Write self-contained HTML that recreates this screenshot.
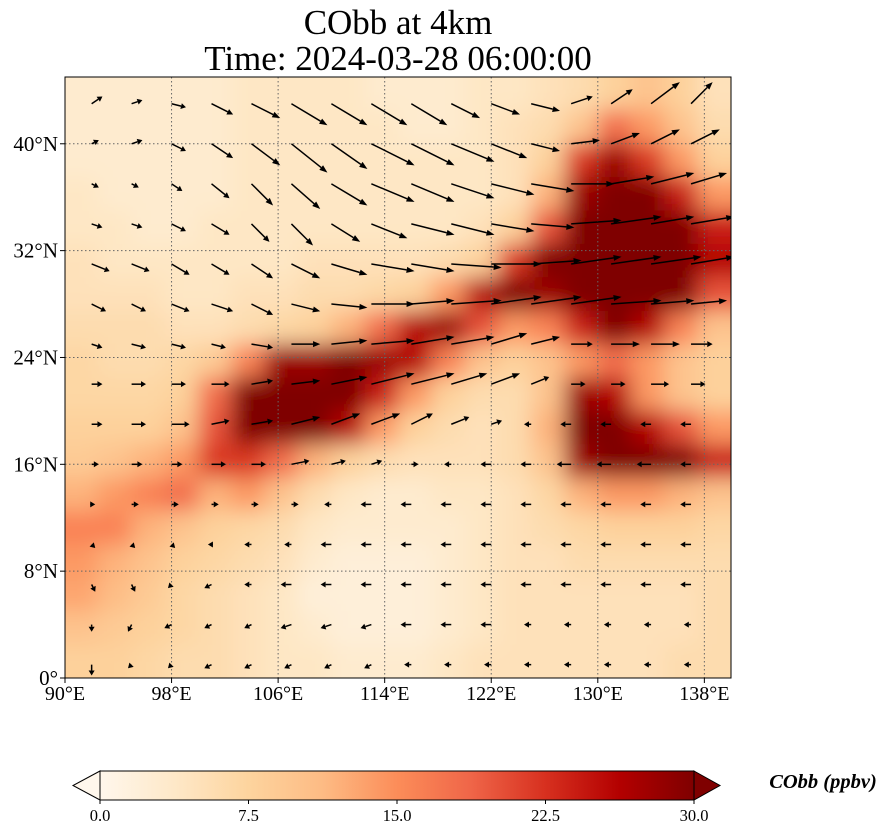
<!DOCTYPE html>
<html><head><meta charset="utf-8"><style>
body{margin:0;background:#fff;width:887px;height:836px;overflow:hidden;font-family:"Liberation Serif",serif}
svg{display:block}
</style></head><body>
<svg id="chart" width="887" height="836">
<defs>
<clipPath id="mapclip"><rect x="65" y="77" width="666" height="601"/></clipPath>
<filter id="blur" x="-10%" y="-10%" width="120%" height="120%"><feGaussianBlur stdDeviation="11"/></filter>
<linearGradient id="cbgrad" x1="0" x2="1" y1="0" y2="0">
<stop offset="0" stop-color="#fff7ec"/><stop offset="0.125" stop-color="#fee8c8"/><stop offset="0.25" stop-color="#fdd49e"/><stop offset="0.375" stop-color="#fdbb84"/><stop offset="0.5" stop-color="#fc8d59"/><stop offset="0.625" stop-color="#ef6548"/><stop offset="0.75" stop-color="#d7301f"/><stop offset="0.875" stop-color="#b30000"/><stop offset="1" stop-color="#7f0000"/>
</linearGradient>
</defs>
<text x="398" y="34" font-size="35" text-anchor="middle">CObb at 4km</text>
<text x="398" y="70" font-size="35" text-anchor="middle">Time: 2024-03-28 06:00:00</text>
<g id="map" clip-path="url(#mapclip)">
<rect x="65" y="77" width="666" height="601" fill="#fde3c4"/>
<g id="field" filter="url(#blur)"></g>
<g id="grid"></g>
<g id="arrows"></g>
</g>
<rect x="65" y="77" width="666" height="601" fill="none" stroke="#000" stroke-width="1"/>
<g id="axes"></g>
<g id="colorbar">
<polygon points="100,771 73,785.5 100,800" fill="#fff7ec" stroke="#000" stroke-width="1"/>
<polygon points="694,771 720,785.5 694,800" fill="#7f0000" stroke="#000" stroke-width="1"/>
<rect x="100" y="771" width="594" height="29" fill="url(#cbgrad)" stroke="#000" stroke-width="1"/>
<text x="823" y="788" font-size="20.5" font-weight="bold" font-style="italic" text-anchor="middle">CObb (ppbv)</text>
</g>
</svg>
<script>
const lonTicks=[90,98,106,114,122,130,138];
const latTicks=[0,8,16,24,32,40];
const cbTicks=[0,7.5,15,22.5,30];
const fieldLats=[43.75,41.25,38.75,36.25,33.75,31.25,28.75,26.25,23.75,21.25,18.75,16.25,13.75,11.25,8.75,6.25,3.75,1.25];
const fieldLons=[91.25,93.75,96.25,98.75,101.25,103.75,106.25,108.75,111.25,113.75,116.25,118.75,121.25,123.75,126.25,128.75,131.25,133.75,136.25,138.75];
const fieldVals=[
[3,3,3,3,3,4,4,4,4,3,3,3,4,4,5,6,8,10,8,5],
[3,3,3,3,3,4,4,4,4,4,3,3,4,5,6,10,18,14,10,6],
[3,3,3,3,3,4,4,4,4,4,4,4,4,5,8,22,28,22,14,8],
[4,3,3,3,3,4,4,4,4,4,4,4,4,5,12,28,30,30,24,14],
[4,4,3,3,4,4,4,4,4,4,4,4,5,8,20,30,30,30,30,24],
[5,4,4,4,4,4,4,5,5,5,5,6,8,22,30,30,30,30,30,26],
[5,5,5,4,4,5,5,6,6,7,8,14,26,30,28,30,30,30,30,20],
[6,6,6,5,5,6,7,8,12,18,26,28,20,14,16,24,30,26,16,10],
[7,6,6,7,9,16,28,28,30,28,26,16,10,8,10,14,18,14,10,8],
[7,7,7,8,18,30,30,30,30,24,14,8,6,6,10,28,26,14,10,8],
[8,8,8,10,20,30,30,30,26,14,8,6,5,6,12,30,30,26,20,14],
[9,10,12,14,22,22,18,12,8,6,5,5,5,6,10,28,30,30,30,24],
[12,14,16,18,12,14,10,6,4,3,3,4,4,5,7,12,14,14,12,10],
[16,16,12,10,8,7,6,4,3,3,3,3,4,5,6,7,8,8,8,7],
[14,12,10,8,7,6,5,3,2,2,2,3,4,5,5,6,6,6,6,6],
[13,11,9,7,6,5,4,2,2,2,2,3,4,5,5,5,5,5,5,6],
[10,9,8,7,6,5,4,3,2,2,2,3,4,5,5,5,5,5,5,6],
[8,8,7,6,6,5,4,4,3,3,3,4,5,5,5,5,5,5,6,6]];
const windLats=[43,40,37,34,31,28,25,22,19,16,13,10,7,4,1];
const windLons=[92,95,98,101,104,107,110,113,116,119,122,125,128,131,134,137];
const windU=[
[3,3,4,6,8,10,10,10,10,8,8,8,6,6,8,6],
[2,3,4,6,8,10,10,12,12,12,10,8,8,8,8,8],
[2,2,3,5,6,8,10,12,12,12,12,12,12,12,12,10],
[3,3,4,5,5,6,8,10,12,12,12,12,14,14,12,12],
[5,5,5,5,6,8,10,12,12,14,14,14,14,14,14,12],
[4,4,5,6,6,8,10,12,12,14,14,14,14,14,12,10],
[3,4,4,4,6,8,10,12,12,12,10,8,6,8,8,6],
[3,4,4,5,6,8,10,12,12,10,8,5,4,4,5,4],
[3,4,5,5,6,8,8,8,6,5,3,-2,-3,-3,-3,-3],
[2,3,3,4,4,5,4,3,2,-2,-3,-3,-4,-4,-4,-3],
[1,2,2,2,2,2,-2,-3,-3,-3,-3,-3,-3,-3,-3,-3],
[1,1,1,-1,-2,-2,-3,-3,-3,-3,-3,-3,-3,-3,-3,-3],
[1,1,-1,-2,-2,-3,-3,-3,-3,-3,-3,-3,-3,-3,-3,-3],
[0,-1,-2,-2,-2,-3,-3,-3,-3,-3,-3,-2,-2,-2,-2,-2],
[0,-1,-1,-2,-2,-2,-2,-2,-2,-2,-2,-2,-2,-2,-2,-2]];
const windV=[
[2,1,-1,-3,-4,-6,-6,-6,-6,-4,-3,-2,2,4,6,6],
[1,1,-2,-4,-6,-8,-7,-6,-6,-5,-4,-2,1,3,4,4],
[-1,-1,-2,-4,-6,-7,-6,-5,-5,-4,-3,-2,0,2,3,3],
[-1,-1,-2,-3,-5,-6,-5,-4,-3,-3,-2,-1,1,2,2,2],
[-2,-2,-3,-3,-4,-4,-3,-2,-2,-1,0,1,2,2,2,2],
[-2,-2,-2,-2,-3,-2,-1,0,1,1,2,2,2,1,1,1],
[-1,-1,-1,-1,-1,0,1,1,2,2,3,2,0,0,0,0],
[0,0,0,0,1,1,2,3,3,3,3,2,0,0,0,0],
[0,0,0,1,1,2,3,3,3,2,1,0,0,0,0,0],
[0,0,0,0,0,1,1,1,0,0,0,0,0,0,0,0],
[0,0,0,0,0,0,0,0,0,0,0,0,0,0,0,0],
[-1,-1,-1,0,0,0,0,0,0,0,0,0,0,0,0,0],
[-2,-2,-1,-1,0,0,0,0,0,0,0,0,0,0,0,0],
[-2,-2,-1,-1,-1,-1,-1,-1,0,0,0,0,0,0,0,0],
[-3,-1,-1,-1,-1,-1,-1,-1,0,0,0,0,0,0,0,0]];

const NS='http://www.w3.org/2000/svg';
const X=lon=>65+(lon-90)*666/50;
const Y=lat=>678-(lat)*601/45;
const CB=v=>100+v*594/30;
const stops=[[255,247,236],[254,232,200],[253,212,158],[253,187,132],[252,141,89],[239,101,72],[215,48,31],[179,0,0],[127,0,0]];
function color(v){let t=Math.max(0,Math.min(1,v/30))*8;let i=Math.min(7,Math.floor(t));let f=t-i;const a=stops[i],b=stops[i+1];return `rgb(${a.map((c,k)=>Math.round(c+(b[k]-c)*f)).join(',')})`;}
function mk(tag,attrs,parent){const e=document.createElementNS(NS,tag);for(const k in attrs)e.setAttribute(k,attrs[k]);parent.appendChild(e);return e;}
const field=document.getElementById('field');
const cw=X(2.5)-X(0), ch=Y(0)-Y(2.5);
fieldLats.forEach((la,r)=>fieldLons.forEach((lo,c)=>{
  const x0=X(lo)-cw/2-(c==0?30:0), y0=Y(la)-ch/2-(r==0?30:0);
  const w=cw+1+(c==0||c==fieldLons.length-1?30:0), h=ch+1+(r==0||r==fieldLats.length-1?30:0);
  const e=mk('rect',{x:x0,y:y0,width:w,height:h,fill:color(fieldVals[r][c])},field);
  
  
}));
const grid=document.getElementById('grid');
lonTicks.forEach(l=>{const e=mk('line',{x1:X(l),x2:X(l),y1:77,y2:678,stroke:'#666',"stroke-width":1,"stroke-dasharray":"1.5,2.5"},grid);
  
  });
latTicks.forEach(l=>{const e=mk('line',{x1:65,x2:731,y1:Y(l),y2:Y(l),stroke:'#666',"stroke-width":1,"stroke-dasharray":"1.5,2.5"},grid);
  
  });
const arrows=document.getElementById('arrows');
const S=3.6;
windLats.forEach((la,r)=>windLons.forEach((lo,c)=>{
  const u=windU[r][c],v=windV[r][c];const sp=Math.hypot(u,v);if(sp<0.5)return;
  const x0=X(lo),y0=Y(la),dx=u*S,dy=-v*S,L=sp*S,ux=dx/L,uy=dy/L;
  const g=mk('g',{},arrows);
  
  
  const hl=Math.min(8,Math.max(5,L*0.25)),hw=3;
  const x1=x0+dx,y1=y0+dy,bx=x1-ux*hl,by=y1-uy*hl;
  mk('line',{x1:x0,y1:y0,x2:bx,y2:by,stroke:'#000',"stroke-width":1.5},g);
  mk('polygon',{points:`${x1},${y1} ${bx-uy*hw},${by+ux*hw} ${bx+uy*hw},${by-ux*hw}`,fill:'#000'},g);
}));
const axes=document.getElementById('axes');
lonTicks.forEach(l=>{mk('line',{x1:X(l),x2:X(l),y1:678,y2:683,stroke:'#000'},axes);
  const t=mk('text',{x:X(l),y:700,"font-size":20,"text-anchor":"middle"},axes);t.textContent=l+'°E';
  
  });
latTicks.forEach(l=>{mk('line',{x1:60,x2:65,y1:Y(l),y2:Y(l),stroke:'#000'},axes);
  const t=mk('text',{x:58,y:Y(l)+7,"font-size":21,"text-anchor":"end"},axes);t.textContent=l===0?'0°':l+'°N';
  
  });
const cb=document.getElementById('colorbar');
cbTicks.forEach(v=>{mk('line',{x1:CB(v),x2:CB(v),y1:800,y2:804,stroke:'#000'},cb);
  const t=mk('text',{x:CB(v),y:821,"font-size":16.5,"text-anchor":"middle"},cb);t.textContent=v.toFixed(1);
  
  });
</script>
</body></html>
